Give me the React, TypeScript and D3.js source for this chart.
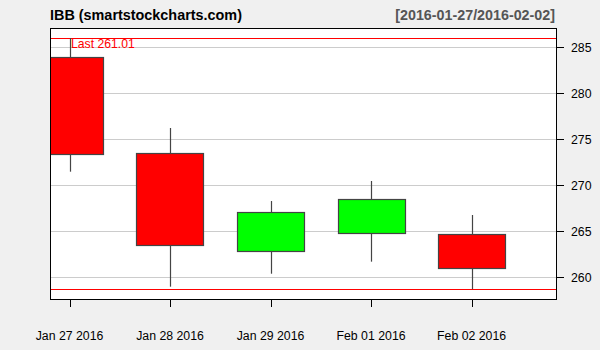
import React from "react";
import * as d3 from "d3";

const dates = ["Jan 27 2016", "Jan 28 2016", "Jan 29 2016", "Feb 01 2016", "Feb 02 2016"];
const opens = [283.95, 273.48, 262.83, 264.78, 264.67];
const highs = [286.0, 276.23, 268.29, 270.47, 266.77];
const lows = [271.48, 258.98, 260.39, 261.7, 258.7];
const closes = [273.4, 263.43, 267.07, 268.48, 261.01];
const yTicks = [260, 265, 270, 275, 280, 285];
const title = "IBB (smartstockcharts.com)";
const rangeLabel = "[2016-01-27/2016-02-02]";
const lastValue = 261.01;

const W = 600, H = 350;
const L = 50, R = 556, T = 28, B = 299;

export default function App() {
  const x = d3.scaleLinear().domain([-0.194, 4.84]).range([L, R]);
  const y = d3.scaleLinear().domain([260, 285]).range([277.3, 47.3]);
  const step = x(1) - x(0);
  const bw = step * 0.667;
  const maxH = d3.max(highs) as number;
  const minL = d3.min(lows) as number;
  const font = "Arial, 'Liberation Sans', sans-serif";
  return (
    <svg width={W} height={H} style={{ position: "absolute", left: 0, top: 0 }} fontFamily={font}>
      <defs>
        <clipPath id="plotclip">
          <rect x={L} y={T} width={R - L} height={B - T} />
        </clipPath>
      </defs>
      <rect x={0} y={0} width={W} height={H} fill="#f0f0f0" />
      <rect x={L} y={T} width={R - L} height={B - T} fill="#ffffff" />
      {yTicks.map((t) => (
        <line key={"g" + t} x1={L} x2={R} y1={Math.round(y(t)) + 0.5} y2={Math.round(y(t)) + 0.5} stroke="#cccccc" strokeWidth={1} />
      ))}
      <g clipPath="url(#plotclip)">
        <line x1={L} x2={R} y1={Math.round(y(maxH)) + 0.5} y2={Math.round(y(maxH)) + 0.5} stroke="#ff0000" strokeWidth={1} />
        <line x1={L} x2={R} y1={Math.round(y(minL)) + 0.5} y2={Math.round(y(minL)) + 0.5} stroke="#ff0000" strokeWidth={1} />
        {dates.map((d, i) => {
          const cx = Math.round(x(i)) + 0.5;
          const o = opens[i], c = closes[i];
          const top = y(Math.max(o, c));
          const bot = y(Math.min(o, c));
          return (
            <g key={d}>
              <line x1={cx} x2={cx} y1={y(highs[i])} y2={y(lows[i])} stroke="#444444" strokeWidth={1.2} />
              <rect
                x={Math.round(x(i) - bw / 2) + 0.5}
                y={Math.round(top) + 0.5}
                width={Math.round(bw)}
                height={Math.round(bot - top)}
                fill={c >= o ? "#00ff00" : "#ff0000"}
                stroke="#444444"
                strokeWidth={1.2}
              />
            </g>
          );
        })}
      </g>
      <text x={71} y={47.5} fontSize={12.2} fill="#ff0000">{"Last " + lastValue.toFixed(2)}</text>
      <rect x={L + 0.5} y={T + 0.5} width={R - L} height={B - T} fill="none" stroke="#000000" strokeWidth={1} />
      {yTicks.map((t) => (
        <g key={"t" + t}>
          <line x1={R} x2={R + 8} y1={Math.round(y(t)) + 0.5} y2={Math.round(y(t)) + 0.5} stroke="#000" strokeWidth={1} />
          <text x={571} y={y(t)} dy="0.35em" fontSize={12.3} fill="#000">{t}</text>
        </g>
      ))}
      {dates.map((d, i) => (
        <g key={"x" + d}>
          <line x1={Math.round(x(i)) + 0.5} x2={Math.round(x(i)) + 0.5} y1={B} y2={B + 8} stroke="#000" strokeWidth={1} />
          <text x={x(i)} y={340} textAnchor="middle" fontSize={12.3} fill="#000">{d}</text>
        </g>
      ))}
      <text x={50} y={20} fontSize={14.4} fontWeight="bold" fill="#000">{title}</text>
      <text x={555} y={20} fontSize={14.3} fontWeight="bold" fill="#555555" textAnchor="end">{rangeLabel}</text>
    </svg>
  );
}
